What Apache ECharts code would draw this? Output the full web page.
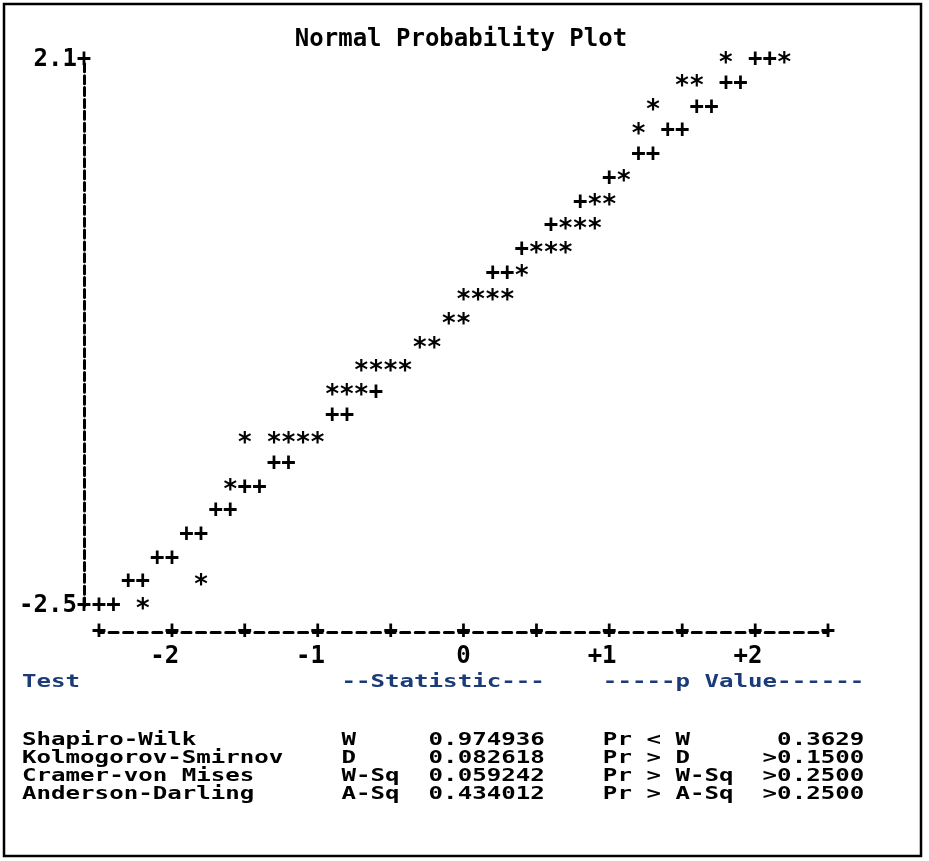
<!DOCTYPE html>
<html>
<head>
<meta charset="utf-8">
<script src="https://cdn.jsdelivr.net/npm/echarts@6/dist/echarts.min.js"></script>
<style>
  html, body { margin: 0; padding: 0; background: #ffffff; }
  #chart { width: 929px; height: 861px; }
</style>
</head>
<body>
<div id="chart"></div>
<script>
// Observations: normal quantile and value, drawn with '*'
const obsQuantile = [1.8, 2.2, 1.5, 1.6, 1.3, 1.2, 1.1, 0.9, 1.0, 0.7, 0.8, 0.9,
  0.5, 0.6, 0.7, 0.4, 0.0, 0.1, 0.2, 0.3, -0.1, 0.0, -0.3, -0.2,
  -0.7, -0.6, -0.5, -0.4, -0.9, -0.8, -0.7, -1.5, -1.3, -1.2, -1.1, -1.0,
  -1.6, -1.8, -2.2];
const obsValue = [2.1, 2.1, 1.9, 1.9, 1.7, 1.5, 1.1, 0.9, 0.9, 0.7, 0.7, 0.7,
  0.5, 0.5, 0.5, 0.3, 0.1, 0.1, 0.1, 0.1, -0.1, -0.1, -0.3, -0.3,
  -0.5, -0.5, -0.5, -0.5, -0.7, -0.7, -0.7, -1.1, -1.1, -1.1, -1.1, -1.1,
  -1.5, -2.3, -2.5];

// Reference normal line, drawn with '+'
const refQuantile = [2.0, 2.1, 1.8, 1.9, 1.6, 1.7, 1.4, 1.5, 1.2, 1.3, 1.0, 0.8,
  0.6, 0.4, 0.2, 0.3, -0.6, -0.9, -0.8, -1.3, -1.2, -1.5, -1.4, -1.7, -1.6,
  -1.9, -1.8, -2.1, -2.0, -2.3, -2.2, -2.5, -2.4];
const refValue = [2.1, 2.1, 1.9, 1.9, 1.7, 1.7, 1.5, 1.5, 1.3, 1.3, 1.1, 0.9,
  0.7, 0.5, 0.3, 0.3, -0.7, -0.9, -0.9, -1.3, -1.3, -1.5, -1.5, -1.7, -1.7,
  -1.9, -1.9, -2.1, -2.1, -2.3, -2.3, -2.5, -2.5];

// Axis labels
const xTickLabels = [-2, -1, 0, 1, 2];
const yTickValues = [-2.5, 2.1];

// Tests for normality
const testNames = ['Shapiro-Wilk', 'Kolmogorov-Smirnov', 'Cramer-von Mises', 'Anderson-Darling'];
const statSymbols = ['W', 'D', 'W-Sq', 'A-Sq'];
const statValues = ['0.974936', '0.082618', '0.059242', '0.434012'];
const pLabels = ['Pr < W', 'Pr > D', 'Pr > W-Sq', 'Pr > A-Sq'];
const pValues = ['0.3629', '>0.1500', '>0.2500', '>0.2500'];

const MONO = '"DejaVu Sans Mono", "Liberation Mono", monospace';
const FS = 24;
const INK = '#000000';
const HEAD = '#1b3b78';

const chart = echarts.init(document.getElementById('chart'), null, { renderer: 'canvas' });

const textStyle = (color) => ({
  fontFamily: MONO, fontWeight: 'bold', fontSize: FS, fill: color || INK,
  verticalAlign: 'middle'
});

// Listing-style table lines built from the columns above
const headerLine = 'Test'.padEnd(22) + '--Statistic---' + '    ' + '-----p Value------';
const rowLines = testNames.map((n, i) =>
  n.padEnd(22) + statSymbols[i].padEnd(6) + statValues[i] + '    ' +
  pLabels[i].padEnd(11) + pValues[i].padStart(7));

const TABLE_SCALE_Y = 0.74;
const graphics = [
  { type: 'rect', shape: { x: 4, y: 4, width: 917, height: 852 },
    style: { fill: 'none', stroke: '#000', lineWidth: 2.5 }, silent: true },
  { type: 'text', x: 22, y: 682, scaleX: 1.005, scaleY: TABLE_SCALE_Y,
    style: Object.assign({ text: headerLine }, textStyle(HEAD)) }
];
rowLines.forEach((line, i) => {
  graphics.push({ type: 'text', x: 22, y: 740 + i * 18, scaleX: 1.005, scaleY: TABLE_SCALE_Y,
    style: Object.assign({ text: line }, textStyle(INK)) });
});

const glyphLabel = (ch, size, dy) => ({
  show: true, position: 'inside', formatter: ch,
  fontFamily: MONO, fontWeight: 'bold', fontSize: size, color: INK,
  textBorderWidth: 0, textBorderColor: 'transparent', opacity: 1,
  offset: [0, dy]
});

chart.setOption({
  animation: false,
  backgroundColor: '#ffffff',
  title: {
    text: 'Normal Probability Plot',
    left: 456, top: 23, textAlign: 'center',
    textStyle: { fontFamily: MONO, fontWeight: 'bold', fontSize: FS, color: INK }
  },
  grid: { left: 99, right: 101, top: 60, bottom: 255, containLabel: false },
  xAxis: [
    {
      type: 'value', min: -2.5, max: 2.5, interval: 0.5, position: 'bottom', offset: 26,
      axisLine: { show: true, onZero: false, lineStyle: { color: INK, width: 3, type: [9, 5.58], dashOffset: 4.5 } },
      axisTick: { show: false }, splitLine: { show: false },
      axisLabel: {
        show: true, formatter: () => '+', margin: 0, verticalAlign: 'middle',
        showMinLabel: true, showMaxLabel: true,
        fontFamily: MONO, fontWeight: 'bold', fontSize: FS, color: INK
      }
    },
    {
      type: 'value', min: -2.5, max: 2.5, position: 'bottom', offset: 26,
      axisLine: { show: false, onZero: false }, axisTick: { show: false }, splitLine: { show: false },
      axisLabel: {
        show: true, customValues: xTickLabels,
        formatter: v => v === 0 ? '0' : (v > 0 ? '+' + v : String(v)) + ' ',
        margin: 25, verticalAlign: 'middle', align: 'center',
        fontFamily: MONO, fontWeight: 'bold', fontSize: FS, color: INK
      }
    }
  ],
  yAxis: {
    type: 'value', min: -2.5, max: 2.1, position: 'left', offset: 15,
    axisLine: { show: true, onZero: false, lineStyle: { color: INK, width: 3, type: [8, 3.87] } },
    axisTick: { show: false }, splitLine: { show: false },
    axisLabel: {
      show: true, customValues: yTickValues,
      formatter: v => v.toFixed(1) + '+', margin: -7.3, align: 'right', verticalAlign: 'middle',
      fontFamily: MONO, fontWeight: 'bold', fontSize: FS, color: INK
    }
  },
  series: [
    {
      name: 'Reference', type: 'scatter', xAxisIndex: 0,
      data: refQuantile.map((q, i) => [q, refValue[i]]),
      symbol: 'rect', symbolSize: 1, itemStyle: { color: 'rgba(0,0,0,0)' },
      label: glyphLabel('+', FS, 0), silent: true, z: 3
    },
    {
      name: 'Observed', type: 'scatter', xAxisIndex: 0,
      data: obsQuantile.map((q, i) => [q, obsValue[i]]),
      symbol: 'rect', symbolSize: 1, itemStyle: { color: 'rgba(0,0,0,0)' },
      label: glyphLabel('*', 26, 4), silent: true, z: 4
    }
  ],
  graphic: graphics
});
</script>
</body>
</html>
